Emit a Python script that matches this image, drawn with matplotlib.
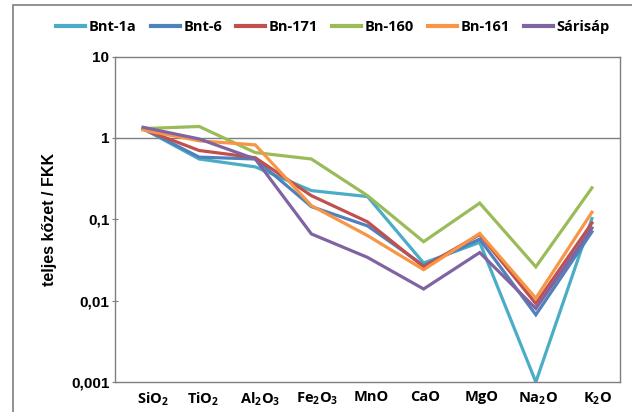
import matplotlib
matplotlib.use("Agg")
import matplotlib.pyplot as plt
from matplotlib.patches import Rectangle
from matplotlib.ticker import FixedLocator, NullLocator
from matplotlib.transforms import ScaledTranslation

categories = [r"SiO$_\mathregular{2}$", r"TiO$_\mathregular{2}$", r"Al$_\mathregular{2}$O$_\mathregular{3}$",
              r"Fe$_\mathregular{2}$O$_\mathregular{3}$", "MnO", "CaO", "MgO",
              r"Na$_\mathregular{2}$O", r"K$_\mathregular{2}$O"]

bnt_1a  = [1.30, 0.55, 0.44, 0.225, 0.19, 0.029, 0.052, 0.001, 0.102]
bnt_6   = [1.30, 0.58, 0.55, 0.143, 0.083, 0.027, 0.057, 0.0067, 0.070]
bn_171  = [1.28, 0.70, 0.57, 0.195, 0.093, 0.026, 0.065, 0.0092, 0.090]
bn_160  = [1.30, 1.38, 0.66, 0.55, 0.195, 0.053, 0.158, 0.026, 0.243]
bn_161  = [1.25, 0.92, 0.82, 0.147, 0.063, 0.024, 0.067, 0.0107, 0.122]
sarisap = [1.35, 0.97, 0.55, 0.066, 0.034, 0.0139, 0.039, 0.0080, 0.078]

series = [("Bnt-1a", bnt_1a, "#4BACC6"),
          ("Bnt-6", bnt_6, "#4F81BD"),
          ("Bn-171", bn_171, "#C0504D"),
          ("Bn-160", bn_160, "#9BBB59"),
          ("Bn-161", bn_161, "#F79646"),
          ("Sárisáp", sarisap, "#8064A2")]

yticks = [0.001, 0.01, 0.1, 1, 10]
ytick_labels = ["0,001", "0,01", "0,1", "1", "10"]

W, H = 632, 412
fig = plt.figure(figsize=(W / 100, H / 100), dpi=100)
fig.patch.set_facecolor("white")
fig.add_artist(Rectangle((13 / W, -0.1), 1.2, (H - 5) / H + 0.1, transform=fig.transFigure,
                         fill=False, edgecolor="#7f7f7f", linewidth=1.2))

ax = fig.add_axes([115 / W, 1 - 382 / H, (620 - 115) / W, (382 - 56.5) / H])
x = list(range(len(categories)))
for name, vals, col in series:
    ax.plot(x, vals, color=col, linewidth=2.3, label=name, solid_joinstyle="miter")

ax.set_yscale("log")
ax.set_ylim(0.001, 10)
ax.set_xlim(-0.5, len(categories) - 0.5)
ax.yaxis.set_major_locator(FixedLocator(yticks))
ax.yaxis.set_minor_locator(NullLocator())
ax.set_yticklabels(ytick_labels, fontfamily="Liberation Sans", fontweight="bold", fontsize=11)
ax.set_xticks(x)
ax.set_xticklabels(categories, fontfamily="Open Sans", fontweight="bold", fontsize=10.5)
ax.tick_params(axis="x", length=0, pad=6)
ax.tick_params(axis="y", length=4, direction="inout", color="#7f7f7f", pad=2)
label_shift_px = [10, 4, 5, 6, 4, 2, 2, 2, 6]
for lab, dx in zip(ax.get_xticklabels(), label_shift_px):
    lab.set_transform(lab.get_transform() + ScaledTranslation(dx / 100, 0, fig.dpi_scale_trans))
ax.axhline(1, color="#7f7f7f", linewidth=1.0, zorder=0)
for s in ax.spines.values():
    s.set_color("#7f7f7f")
    s.set_linewidth(1.0)

ax.set_ylabel("teljes kőzet / FKK", fontfamily="Liberation Sans", fontweight="bold", fontsize=11.5, labelpad=10)

leg = fig.legend(loc="center", bbox_to_anchor=(333 / W, 1 - 27 / H), ncol=6, frameon=False,
                 prop={"family": "Open Sans", "weight": "bold", "size": 10.5},
                 handlelength=2.0, handletextpad=0.25, columnspacing=0.95)
for line in leg.get_lines():
    line.set_linewidth(3)

fig.savefig("out.png", dpi=100)
